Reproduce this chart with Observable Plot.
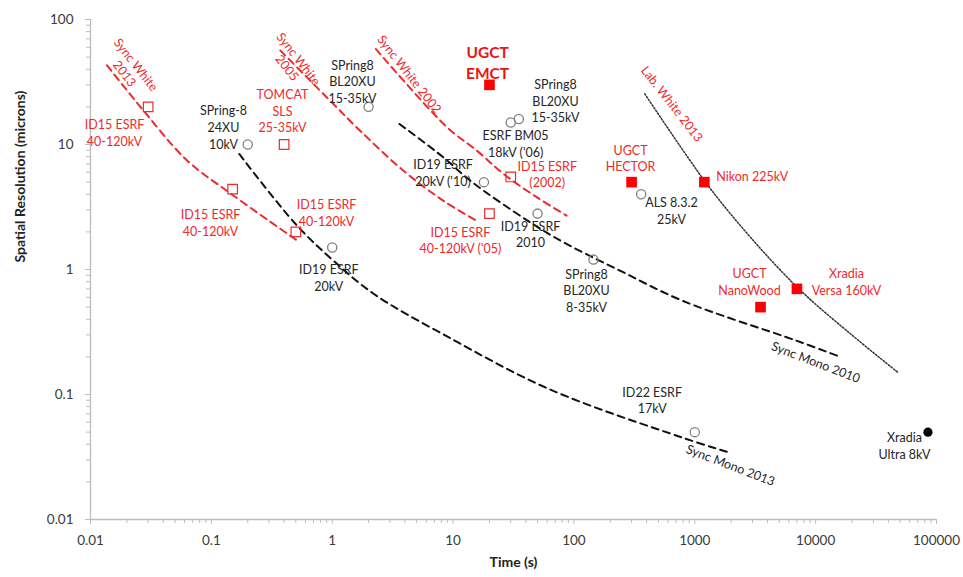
<!DOCTYPE html>
<html>
<head>
<meta charset="utf-8">
<script src="https://cdn.jsdelivr.net/npm/d3@7"></script>
<script src="https://cdn.jsdelivr.net/npm/@observablehq/plot@0.6"></script>
<style>
  html, body { margin: 0; padding: 0; background: #fff; }
  #chart { width: 963px; height: 577px; }
</style>
</head>
<body>
<div id="chart"></div>
<script>
// ---- axis ticks ----
const xTicks = [0.01, 0.1, 1, 10, 100, 1000, 10000, 100000];
const xTickLabels = ["0.01", "0.1", "1", "10", "100", "1000", "10000", "100000"];
const yTicks = [0.01, 0.1, 1, 10, 100];
const yTickLabels = ["0.01", "0.1", "1", "10", "100"];
const xTitle = "Time (s)";
const yTitle = "Spatial Resolution (microns)";

// ---- markers (time s, resolution µm) ----
const redOpenT = [0.03, 0.15, 0.5, 0.4, 20, 30];
const redOpenR = [20, 4.4, 2, 10, 2.8, 5.5];
const redFilledT = [20, 300, 1200, 3500, 7000];
const redFilledR = [30, 5, 5, 0.5, 0.7];
const grayOpenT = [0.2, 2, 1, 30, 35, 18, 50, 145, 360, 1000];
const grayOpenR = [10, 20, 1.5, 15, 16, 5, 2.8, 1.2, 4, 0.05];
const blackFilledT = [85000];
const blackFilledR = [0.05];

// ---- trend curves ----
const syncWhite2013T = [0.0137, 0.0274, 0.063, 0.144, 0.51];
const syncWhite2013R = [43, 18.7, 7.45, 4.06, 1.71];
const syncWhite2005T = [0.372, 0.9, 1.7, 3.86, 8.27, 15.5];
const syncWhite2005R = [56.5, 23.9, 12.9, 6.2, 3.56, 2.47];
const syncWhite2002T = [2.3, 8.87, 15.7, 25.9, 49.2, 87];
const syncWhite2002R = [58, 13.8, 8.95, 5.86, 3.79, 2.7];
const syncMono2010T = [3.6, 8.3, 14, 43, 82, 240, 800, 6900, 16000];
const syncMono2010R = [14.6, 7.9, 5.1, 2.4, 1.65, 0.98, 0.56, 0.27, 0.2];
const syncMono2013T = [0.17, 0.5, 1, 2.2, 9, 63, 800, 2000];
const syncMono2013R = [8.4, 2.3, 1.2, 0.64, 0.29, 0.11, 0.045, 0.034];
const labWhite2013T = [386, 1250, 2890, 7380, 19400, 47600];
const labWhite2013R = [25.4, 4.88, 1.81, 0.69, 0.306, 0.151];

// ---- annotations (anchored in data units) ----
const blackLabelText = ["SPring-8\n24XU\n10kV", "SPring8\nBL20XU\n15-35kV", "ID19 ESRF\n20kV",
  "ID19 ESRF\n20kV ('10)", "SPring8\nBL20XU\n15-35kV", "ESRF BM05\n18kV ('06)", "ID19 ESRF\n2010",
  "ALS 8.3.2\n25kV", "SPring8\nBL20XU\n8-35kV", "ID22 ESRF\n17kV", "Xradia\nUltra 8kV"];
const blackLabelT = [0.126, 1.47, 0.937, 8.26, 70.4, 32.9, 43.7, 641, 127, 444, 54300];
const blackLabelR = [13.9, 32.2, 0.868, 6.03, 22.5, 10.3, 1.93, 2.98, 0.688, 0.0912, 0.0391];

const redLabelText = ["ID15 ESRF\n40-120kV", "TOMCAT\nSLS\n25-35kV", "ID15 ESRF\n40-120kV", "ID15 ESRF\n40-120kV",
  "ID15 ESRF\n40-120kV ('05)", "ID15 ESRF\n(2002)", "UGCT\nHECTOR", "Nikon 225kV", "UGCT\nNanoWood", "Xradia\nVersa 160kV"];
const redLabelT = [0.0158, 0.388, 0.0984, 0.897, 11.5, 60.1, 294, 2985, 2836, 18000];
const redLabelR = [12.6, 18.7, 2.40, 2.87, 1.73, 5.83, 7.87, 5.65, 0.802, 0.802];

const boldLabelText = ["UGCT\nEMCT"];
const boldLabelT = [19.3];
const boldLabelR = [46.1];

const curveLabelText = ["Sync White\n2013", "Sync White\n2005", "Sync White 2002", "Lab. White 2013"];
const curveLabelT = [0.0214, 0.474, 4.36, 650];
const curveLabelR = [40.2, 44.7, 36.6, 21.2];

const monoLabelText = ["Sync Mono 2010", "Sync Mono 2013"];
const monoLabelT = [10000, 1975];
const monoLabelR = [0.18, 0.027];

// ---- build tables ----
const zip = (T, R, extra) => T.map((t, i) => Object.assign({t, r: R[i]}, extra ? {text: extra[i]} : {}));
const minorX = xTicks.slice(0, -1).flatMap(d => [2,3,4,5,6,7,8,9].map(k => d * k));
const minorY = yTicks.slice(0, -1).flatMap(d => [2,3,4,5,6,7,8,9].map(k => d * k));
const xLabelOf = d => xTickLabels[xTicks.indexOf(d)];
const yLabelOf = d => yTickLabels[yTicks.indexOf(d)];

const RED = "#ee2a2a";
const TXT = "#262626";
const AX = "#bdbdbd";

const chart = Plot.plot({
  width: 963,
  height: 577,
  marginLeft: 90,
  marginRight: 27,
  marginTop: 19,
  marginBottom: 58,
  style: {fontFamily: "Lato, 'Open Sans', sans-serif", fontSize: "13px", background: "#fff", color: TXT},
  x: {type: "log", domain: [0.01, 100000]},
  y: {type: "log", domain: [0.01, 100]},
  marks: [
    Plot.ruleY([0.01], {stroke: AX, strokeWidth: 1.3}),
    Plot.ruleX([0.01], {stroke: AX, strokeWidth: 1.3}),
    Plot.axisX({ticks: minorX, tickFormat: () => "", tickSize: 4, stroke: AX, label: null}),
    Plot.axisY({ticks: minorY, tickFormat: () => "", tickSize: 4, stroke: AX, label: null}),
    Plot.axisX({ticks: xTicks, tickFormat: xLabelOf, tickSize: 5, tickPadding: 11,
      stroke: AX, fill: "#3a3a3a", fontSize: 13.5, label: null}),
    Plot.axisY({ticks: yTicks, tickFormat: yLabelOf, tickSize: 5, tickPadding: 12,
      stroke: AX, fill: "#3a3a3a", fontSize: 13.5, label: null}),
    Plot.text([xTitle], {frameAnchor: "bottom", dy: 47, text: d => d, fontWeight: "bold", fontSize: 14, fill: "#222"}),
    Plot.text([yTitle], {frameAnchor: "left", dx: -70, dy: -7, rotate: -90, text: d => d, fontWeight: "bold", fontSize: 14, fill: "#222"}),

    // curves
    Plot.line(zip(syncWhite2013T, syncWhite2013R), {x: "t", y: "r", stroke: RED, strokeWidth: 2, strokeDasharray: "7,5", curve: "catmull-rom"}),
    Plot.line(zip(syncWhite2005T, syncWhite2005R), {x: "t", y: "r", stroke: RED, strokeWidth: 2, strokeDasharray: "7,5", curve: "catmull-rom"}),
    Plot.line(zip(syncWhite2002T, syncWhite2002R), {x: "t", y: "r", stroke: RED, strokeWidth: 2, strokeDasharray: "7,5", curve: "catmull-rom"}),
    Plot.line(zip(syncMono2010T, syncMono2010R), {x: "t", y: "r", stroke: "#111", strokeWidth: 2, strokeDasharray: "7,5", curve: "catmull-rom"}),
    Plot.line(zip(syncMono2013T, syncMono2013R), {x: "t", y: "r", stroke: "#111", strokeWidth: 2, strokeDasharray: "7,5", curve: "catmull-rom"}),
    Plot.line(zip(labWhite2013T, labWhite2013R), {x: "t", y: "r", stroke: "#333", strokeWidth: 1.5, strokeDasharray: "1.5,1.8", curve: "catmull-rom"}),

    // markers
    Plot.dot(zip(redOpenT, redOpenR), {x: "t", y: "r", symbol: "square", r: 5.4, stroke: RED, strokeWidth: 1.2, fill: "none"}),
    Plot.dot(zip(redFilledT, redFilledR), {x: "t", y: "r", symbol: "square", r: 6, fill: "#ff0000", stroke: "none"}),
    Plot.dot(zip(grayOpenT, grayOpenR), {x: "t", y: "r", symbol: "circle", r: 4.6, stroke: "#808080", strokeWidth: 1.3, fill: "none"}),
    Plot.dot(zip(blackFilledT, blackFilledR), {x: "t", y: "r", symbol: "circle", r: 4.6, fill: "#000", stroke: "none"}),

    // labels
    Plot.text(zip(blackLabelT, blackLabelR, blackLabelText), {x: "t", y: "r", text: "text", fill: TXT, fontSize: 12.5, lineHeight: 1.33}),
    Plot.text(zip(redLabelT, redLabelR, redLabelText), {x: "t", y: "r", text: "text", fill: RED, fontSize: 12.5, lineHeight: 1.33}),
    Plot.text(zip(boldLabelT, boldLabelR, boldLabelText), {x: "t", y: "r", text: "text", fill: "#ee1111", fontSize: 15.5, fontWeight: "bold", lineHeight: 1.35}),
    Plot.text(zip(curveLabelT, curveLabelR, curveLabelText), {x: "t", y: "r", text: "text", fill: RED, fontSize: 12.5, lineHeight: 1.15, rotate: 52}),
    Plot.text(zip(monoLabelT, monoLabelR, monoLabelText), {x: "t", y: "r", text: "text", fill: TXT, fontSize: 12.5, rotate: 21})
  ]
});
document.getElementById("chart").appendChild(chart);
</script>
</body>
</html>
